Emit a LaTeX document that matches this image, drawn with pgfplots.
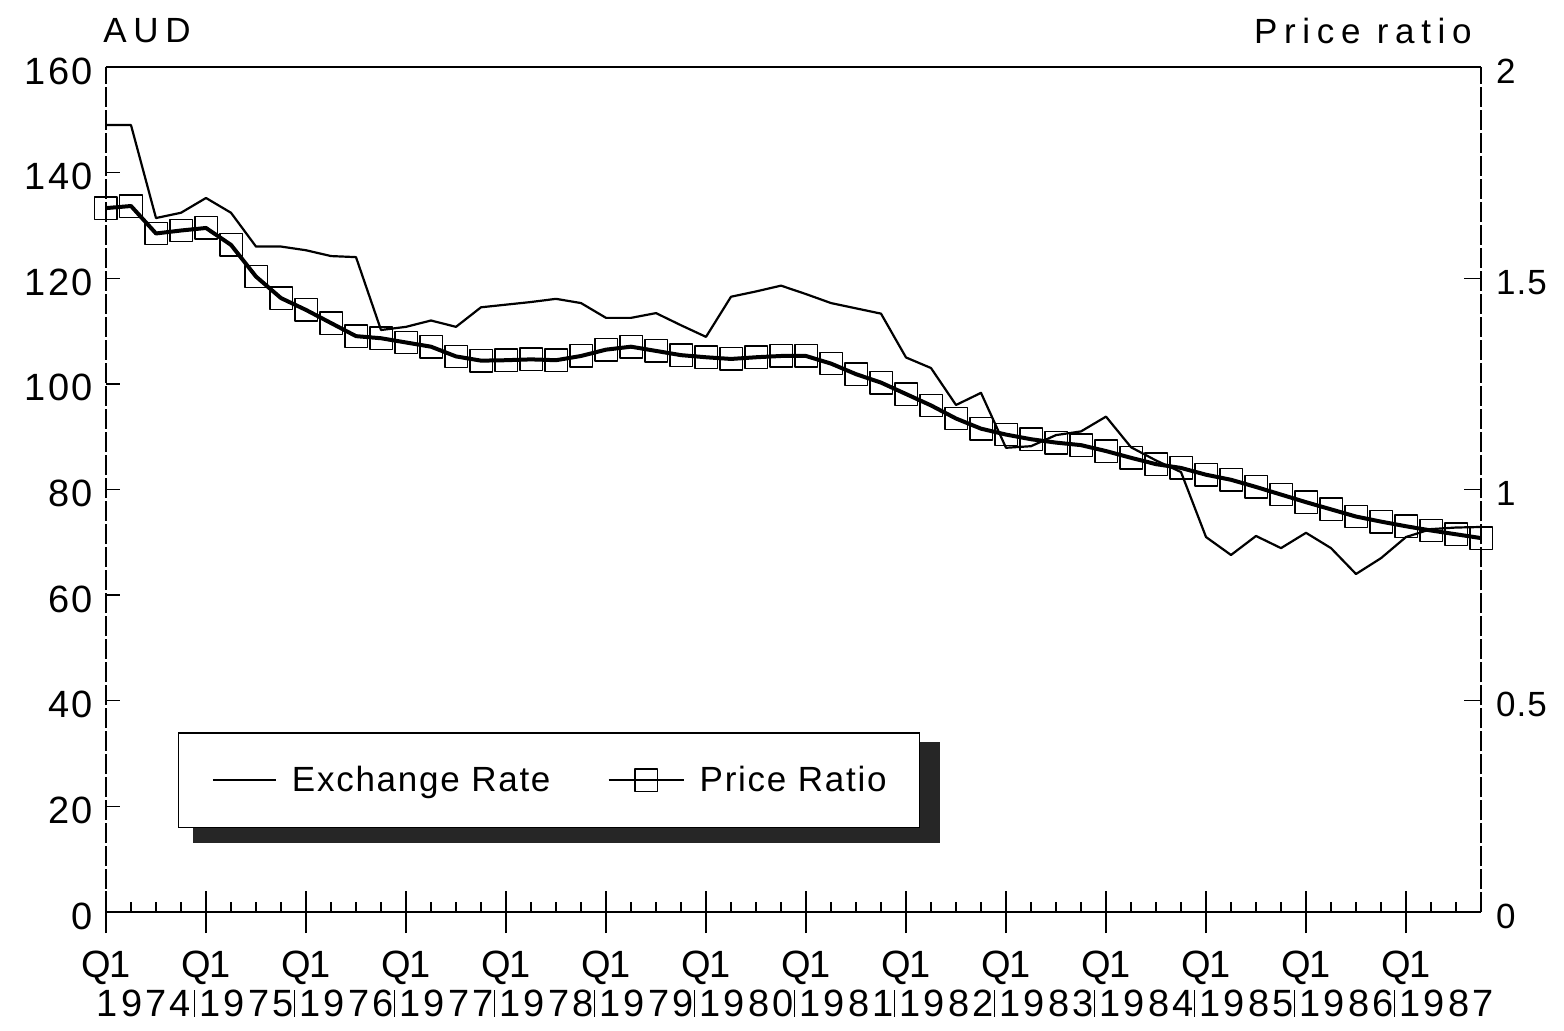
\documentclass[border=0pt]{standalone}
\usepackage{fontspec}
\setmainfont{Liberation Sans}
\usepackage{pgfplots}
\usepackage{pgfplotstable}
\pgfplotsset{compat=1.18}
\newfontfamily\tickfont{Liberation Sans}[LetterSpace=6]
\newfontfamily\rtickfont{Liberation Sans}[LetterSpace=3]
\newfontfamily\yrfont{Liberation Sans}[LetterSpace=8]
\newfontfamily\qfont{Liberation Sans}[LetterSpace=-4]
\newfontfamily\titfont{Liberation Sans}[LetterSpace=19]
\newfontfamily\lgfont{Liberation Sans}[LetterSpace=5]

\newcommand\ylf[1]{Q1\\{\yrfont\makebox[0pt][l]{\hspace{-4.5pt}#1}}}
\newcommand\yl[1]{Q1\\{\yrfont\makebox[0pt][l]{\hspace{-6pt}\rule{0.6pt}{13.5pt}\hspace{2.3pt}#1}}}

\pgfplotsset{
  erlegend/.style={legend image code/.code={\draw[##1] (0pt,0pt) -- (31.5pt,0pt);}},
  prlegend/.style={legend image code/.code={\draw[mark repeat=2, mark phase=2, ##1, line width=1.1pt]
    plot coordinates {(0pt,0pt) (18.75pt,0pt) (37.5pt,0pt)};}},
}

\pgfplotstableread{
q er
0 149
1 149
2 131.4
3 132.4
4 135.2
5 132.4
6 126
7 126
8 125.3
9 124.2
10 124
11 110.2
12 110.8
13 112
14 110.8
15 114.5
16 115
17 115.5
18 116.1
19 115.3
20 112.5
21 112.5
22 113.4
23 111.1
24 108.9
25 116.5
26 117.5
27 118.6
28 117
29 115.3
30 114.3
31 113.3
32 105
33 103
34 96
35 98.3
36 87.9
37 88.2
38 90.3
39 91
40 93.8
41 88
42 85.5
43 83.3
44 71
45 67.6
46 71.2
47 68.9
48 71.8
49 68.9
50 64
51 67
52 71
53 72.5
54 72.8
55 72.9
}\ertable

\pgfplotstableread{
q pr
0 1.666
1 1.671
2 1.606
3 1.613
4 1.619
5 1.579
6 1.504
7 1.453
8 1.425
9 1.394
10 1.363
11 1.358
12 1.348
13 1.338
14 1.315
15 1.305
16 1.306
17 1.308
18 1.306
19 1.316
20 1.331
21 1.338
22 1.328
23 1.318
24 1.313
25 1.309
26 1.313
27 1.316
28 1.316
29 1.298
30 1.273
31 1.253
32 1.226
33 1.199
34 1.168
35 1.144
36 1.130
37 1.119
38 1.111
39 1.105
40 1.091
41 1.075
42 1.060
43 1.051
44 1.035
45 1.023
46 1.006
47 0.988
48 0.970
49 0.953
50 0.936
51 0.924
52 0.913
53 0.903
54 0.894
55 0.885
}\prtable

\begin{document}
\begin{tikzpicture}
\pgfplotsset{every axis/.append style={scale only axis, width=687.5pt, height=422.5pt,
  xmin=0, xmax=55, at={(0,0)}, anchor=south west}}

% left axis with exchange rate
\begin{axis}[
  ymin=0, ymax=160,
  ytick={0,20,...,160},
  yticklabels={0,20,40,60,80,100,120,140,160},
  ytick pos=left, xtick=\empty,
  major tick length=7pt, tick align=inside,
  tick style={black, line width=0.7pt},
  yticklabel style={font=\tickfont\fontsize{19}{21}\selectfont, xshift=-3pt, yshift=-2pt},
  separate axis lines,
  x axis line style={line width=0.8pt},
  y axis line style={line width=0.7pt, dash pattern=on 10pt off 1.5pt},
]
\addplot[black, line width=1.1pt, line join=round] table[x=q, y=er] {\ertable};
\end{axis}

% x axis with quarterly ticks
\begin{axis}[
  hide y axis, axis x line*=bottom,
  ymin=0, ymax=1,
  xtick={0,4,...,52},
  xticklabels={\ylf{1974},\yl{1975},\yl{1976},\yl{1977},\yl{1978},\yl{1979},\yl{1980},
    \yl{1981},\yl{1982},\yl{1983},\yl{1984},\yl{1985},\yl{1986},\yl{1987}},
  minor xtick={0,1,...,55},
  tick align=center,
  major tick length=21pt, minor tick length=5pt,
  every minor tick/.append style={yshift=2.5pt},
  tick style={black, line width=0.7pt},
  x axis line style={line width=1.3pt},
  xticklabel style={align=center, font=\qfont\fontsize{19}{19.5}\selectfont, yshift=-5.5pt},
]
\end{axis}

% legend shadow
\fill[black!85] (43.5pt,34.5pt) rectangle (417pt,85pt);

% right axis with price ratio
\begin{axis}[
  hide x axis, axis y line*=right,
  ymin=0, ymax=2,
  ytick={0,0.5,1,1.5,2},
  yticklabels={0,0.5,1,1.5,2},
  major tick length=8.5pt, tick align=inside,
  tick style={black, line width=0.7pt},
  y axis line style={line width=0.7pt, dash pattern=on 10pt off 1.5pt},
  yticklabel style={font=\rtickfont\fontsize{17.5}{20}\selectfont, xshift=4pt, yshift=-2pt},
  clip=false,
  legend columns=2,
  legend style={at={(0.0524,0.0994)}, anchor=south west,
    draw=black, line width=0.7pt, fill=white,
    inner xsep=16.5pt, inner ysep=16.5pt,
    font=\lgfont\fontsize{17.5}{20}\selectfont,
    nodes={inner sep=0pt},
    /tikz/every odd column/.append style={column sep=7.5pt},
    /tikz/every even column/.append style={column sep=28.5pt}},
]
\addlegendimage{black, line width=1.1pt, erlegend}
\addlegendentry{Exchange Rate}
\addplot[black, line width=2pt, line join=round, mark=square, mark size=5.6pt,
  mark options={line width=0.7pt, solid}, prlegend]
  table[x=q, y=pr] {\prtable};
\addlegendentry{Price Ratio}
\end{axis}

\node[anchor=west, inner sep=0pt, font=\titfont\fontsize{17.5}{20}\selectfont] at (-1.5pt,440.5pt) {AUD};
\node[anchor=east, inner sep=0pt, font=\titfont\fontsize{17.5}{20}\selectfont] at (683pt,440.5pt) {Price ratio};

\pgfresetboundingbox
\path (-53pt,-59pt) rectangle (729pt,456pt);
\end{tikzpicture}
\end{document}
